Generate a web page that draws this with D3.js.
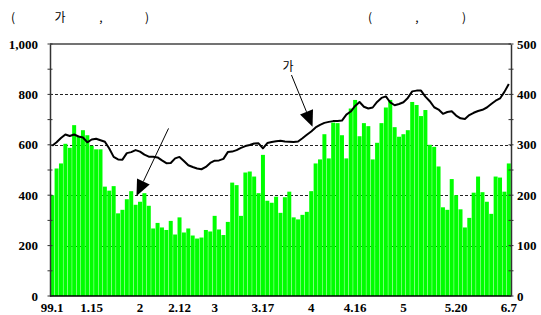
<!DOCTYPE html>
<html>
<head>
<meta charset="utf-8">
<script src="https://cdn.jsdelivr.net/npm/d3@7"></script>
<style>
  body { margin: 0; background: #fff; }
  svg { display: block; }
  .tick-lab { font-family: "Liberation Serif", serif; font-weight: bold; font-size: 13px; fill: #000; }
  .note { font-family: "Noto Sans CJK KR", "Noto Sans", sans-serif; font-size: 12px; fill: #000; }
</style>
</head>
<body>
<div id="chart"></div>
<script>
/* KOSPI (line, left axis) and daily volume (bars, right axis), 99.1 - 6.7 */

const width = 541,
    height = 315,
    margin = ({ top: 44, right: 30, bottom: 19, left: 50 });

// trading days
const dates = [
  "1.4","1.5","1.6","1.7","1.8","1.11","1.12","1.13","1.14","1.15",
  "1.18","1.19","1.20","1.21","1.22","1.25","1.26","1.27","1.28","1.29",
  "2.1","2.2","2.3","2.4","2.5","2.8","2.9","2.10","2.11","2.12",
  "2.18","2.19","2.22","2.23","2.24","2.25","2.26",
  "3.2","3.3","3.4","3.5","3.8","3.9","3.10","3.11","3.12","3.15",
  "3.16","3.17","3.18","3.19","3.22","3.23","3.24","3.25","3.26","3.29","3.30","3.31",
  "4.1","4.2","4.6","4.7","4.8","4.9","4.12","4.13","4.14","4.15","4.16",
  "4.19","4.20","4.21","4.22","4.23","4.26","4.27","4.28","4.29","4.30",
  "5.3","5.4","5.6","5.7","5.10","5.11","5.12","5.13","5.14","5.17",
  "5.18","5.19","5.20","5.21","5.24","5.25","5.26","5.27","5.28","5.31",
  "6.1","6.2","6.3","6.4","6.7"
];

// bars, right axis
const volume = [
  200, 253, 263, 302, 294, 339, 316, 329, 319, 298,
  291, 291, 217, 209, 218, 164, 171, 192, 208, 181,
  187, 204, 179, 134, 145, 136, 131, 149, 122, 156,
  126, 134, 120, 114, 116, 131, 128, 159, 132, 121,
  147, 225, 220, 159, 245, 247, 237, 204, 280, 189,
  185, 197, 165, 196, 207, 156, 152, 161, 167, 208,
  263, 271, 321, 273, 344, 343, 319, 273, 372, 389,
  317, 343, 337, 271, 304, 343, 374, 389, 335, 316,
  321, 329, 385, 379, 357, 369, 300, 296, 257, 176,
  171, 232, 200, 172, 136, 155, 205, 237, 206, 187,
  163, 237, 235, 207, 263
];

// line, left axis
const kospi = [
  596, 610, 627, 641, 635, 641, 633, 629, 610, 621,
  624, 618, 612, 585, 552, 542, 541, 567, 571, 579,
  573, 561, 553, 553, 550, 538, 527, 528, 546, 552,
  536, 519, 512, 506, 503, 512, 528, 537, 538, 544,
  571, 573, 579, 588, 595, 599, 605, 606, 586, 607,
  611, 614, 616, 613, 612, 611, 613, 626, 640, 653,
  669, 679, 687, 691, 694, 694, 696, 720, 732, 754,
  770, 751, 744, 748, 770, 786, 792, 768, 757, 762,
  769, 786, 812, 815, 815, 791, 773, 749, 740, 723,
  730, 733, 716, 705, 702, 718, 727, 734, 739, 748,
  762, 775, 784, 810, 841
];

const tickDates = ["1.4", "1.15", "2.1", "2.12", "3.2", "3.17", "4.1", "4.16", "5.3", "5.20", "6.7"];
const tickLabels = ["99.1", "1.15", "2", "2.12", "3", "3.17", "4", "4.16", "5", "5.20", "6.7"];
const leftTicks = [0, 200, 400, 600, 800, 1000];
const rightTicks = [0, 100, 200, 300, 400, 500];
const gridValues = [200, 400, 600, 800];

const svg = d3.select("#chart")
    .append("svg")
    .attr("width", width)
    .attr("height", height)
    .attr("viewBox", [0, 0, width, height]);

let x = d3.scaleBand()
    .domain(dates)
    .range([margin.left, width - margin.right])
    .padding(0);

let yL = d3.scaleLinear()
    .domain([0, 1000])
    .range([height - margin.bottom, margin.top]);

let yR = d3.scaleLinear()
    .domain([0, 500])
    .range([height - margin.bottom, margin.top]);

// dashed grid
svg.append("g")
    .selectAll("line")
    .data(gridValues)
    .join("line")
    .attr("x1", margin.left)
    .attr("x2", width - margin.right)
    .attr("y1", d => Math.round(yL(d)) + 0.5)
    .attr("y2", d => Math.round(yL(d)) + 0.5)
    .attr("stroke", "#222")
    .attr("stroke-dasharray", "3,2");

// bars
svg.append("g")
    .selectAll("rect")
    .data(volume)
    .join("rect")
    .attr("x", (d, i) => x(dates[i]) + 0.2)
    .attr("width", x.bandwidth() - 0.4)
    .attr("y", d => yR(d))
    .attr("height", d => yR(0) - yR(d))
    .attr("fill", "#00ff00");

// index line
let line = d3.line()
    .x((d, i) => x(dates[i]) + x.bandwidth() / 2)
    .y(d => yL(d));

svg.append("path")
    .datum(kospi)
    .attr("d", line)
    .attr("fill", "none")
    .attr("stroke", "#000")
    .attr("stroke-width", 2)
    .attr("stroke-linejoin", "round");

// frame: top, left, right, bottom
svg.append("line")
    .attr("x1", margin.left).attr("x2", width - margin.right)
    .attr("y1", yL(1000)).attr("y2", yL(1000))
    .attr("stroke", "#444").attr("stroke-width", 1.5);

svg.append("g")
    .attr("transform", `translate(${margin.left},0)`)
    .call(d3.axisLeft(yL).tickValues(d3.range(0, 1001, 100)).tickSize(0).tickFormat(""))
    .call(g => g.select(".domain").attr("stroke", "#333").attr("stroke-width", 1.5));

svg.append("g")
    .attr("transform", `translate(${width - margin.right},0)`)
    .call(d3.axisRight(yR).tickValues(d3.range(0, 501, 50)).tickSize(0).tickFormat(""))
    .call(g => g.select(".domain").attr("stroke", "#333").attr("stroke-width", 1.5));

svg.append("line")
    .attr("x1", margin.left).attr("x2", width - margin.right)
    .attr("y1", yL(0)).attr("y2", yL(0))
    .attr("stroke", "#000").attr("stroke-width", 1.5);

// small tick marks crossing the axes
svg.append("g")
    .selectAll("line")
    .data(d3.range(0, 1001, 100))
    .join("line")
    .attr("x1", margin.left - 2.5).attr("x2", margin.left + 2.5)
    .attr("y1", d => yL(d)).attr("y2", d => yL(d))
    .attr("stroke", "#333");

svg.append("g")
    .selectAll("line")
    .data(d3.range(0, 501, 50))
    .join("line")
    .attr("x1", width - margin.right - 2.5).attr("x2", width - margin.right + 2.5)
    .attr("y1", d => yR(d)).attr("y2", d => yR(d))
    .attr("stroke", "#333");

// tick labels
svg.append("g")
    .selectAll("text")
    .data(leftTicks)
    .join("text")
    .attr("class", "tick-lab")
    .attr("text-anchor", "end")
    .attr("x", margin.left - 12)
    .attr("y", d => yL(d))
    .attr("dy", "0.35em")
    .text(d => d3.format(",")(d));

svg.append("g")
    .selectAll("text")
    .data(rightTicks)
    .join("text")
    .attr("class", "tick-lab")
    .attr("text-anchor", "start")
    .attr("x", width - margin.right + 6)
    .attr("y", d => yR(d))
    .attr("dy", "0.35em")
    .text(d => d);

svg.append("g")
    .selectAll("text")
    .data(tickDates)
    .join("text")
    .attr("class", "tick-lab")
    .attr("text-anchor", "middle")
    .attr("x", d => x(d) + x.bandwidth() / 2)
    .attr("y", height - 3)
    .text((d, i) => tickLabels[i]);

// header texts
const header = [["(", 13], ["가", 60], [",", 101], [")", 147], ["(", 370], [",", 417], [")", 464]];
svg.append("g")
    .selectAll("text")
    .data(header)
    .join("text")
    .attr("class", "note")
    .attr("text-anchor", "middle")
    .attr("x", d => d[1])
    .attr("y", 22)
    .text(d => d[0]);

// arrows, in data units (index, left-axis value)
const arrows = [
    { from: [54.5, 877], to: [59.3, 672] },
    { from: [26.5, 665], to: [19.2, 397] }
];

const px = i => margin.left + i * x.step() + x.bandwidth() / 2;

arrows.forEach(a => {
    let x0 = px(a.from[0]), y0 = yL(a.from[1]),
        x1 = px(a.to[0]), y1 = yL(a.to[1]);
    let ang = Math.atan2(y1 - y0, x1 - x0),
        len = 16, half = 7;
    let bx = x1 - len * Math.cos(ang), by = y1 - len * Math.sin(ang);
    svg.append("line")
        .attr("x1", x0).attr("y1", y0)
        .attr("x2", bx).attr("y2", by)
        .attr("stroke", "#000").attr("stroke-width", 1);
    svg.append("path")
        .attr("d", `M${x1},${y1}L${bx + half * Math.sin(ang)},${by - half * Math.cos(ang)}L${bx - half * Math.sin(ang)},${by + half * Math.cos(ang)}Z`)
        .attr("fill", "#000");
});

svg.append("text")
    .attr("class", "note")
    .attr("font-size", "13px")
    .attr("text-anchor", "middle")
    .attr("x", px(53.7))
    .attr("y", yL(893))
    .text("가");
</script>
</body>
</html>
